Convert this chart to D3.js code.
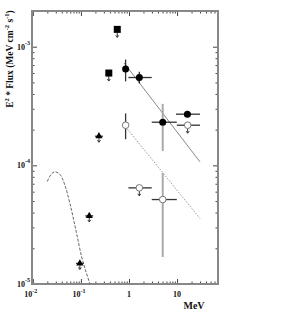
<!DOCTYPE html>
<html><head><meta charset="utf-8">
<script src="https://cdn.jsdelivr.net/npm/d3@7/dist/d3.min.js"></script>
<style>body{margin:0;background:#fff}text{font-family:"Liberation Serif","Times New Roman",serif;font-weight:bold;fill:#111}</style>
</head><body><svg id="c" width="285" height="316"></svg>
<script>
// ---- data ----
const xDomain = [0.0096, 71];
const yDomain = [1e-5, 2.0e-3];
const xTickValues = [0.01, 0.1, 1, 10];
const xTickLabels = [["10","-2"],["10","-1"],["1",""],["10",""]];
const yTickValues = [1e-5, 1e-4, 1e-3];
const yTickLabels = [["10","-5"],["10","-4"],["10","-3"]];

// filled squares (upper limits)
const sqX = [0.57, 0.38];
const sqY = [1.40e-3, 6.0e-4];
// filled triangles (upper limits)
const triX = [0.237, 0.149, 0.095];
const triY = [1.76e-4, 3.75e-5, 1.49e-5];
const triXlo = [0.196, 0.123, 0.079];
const triXhi = [0.287, 0.180, 0.115];
// filled circles
const fcX   = [0.85, 1.64, 5.03, 16.4];
const fcY   = [6.5e-4, 5.5e-4, 2.31e-4, 2.7e-4];
const fcXlo = [null, 0.97, 2.97, 9.5];
const fcXhi = [null, 2.97, 9.86, 30];
const fcYlo = [5.1e-4, 4.9e-4, 1.32e-4, null];
const fcYhi = [7.8e-4, 6.15e-4, 3.3e-4, null];
// open circles
const ocX   = [0.85, 16.6, 1.64, 5.03];
const ocY   = [2.18e-4, 2.18e-4, 6.46e-5, 5.15e-5];
const ocXlo = [null, 9.9, 0.97, 2.97];
const ocXhi = [null, 30, 2.97, 9.86];
const ocYlo = [1.66e-4, null, null, 1.69e-5];
const ocYhi = [2.74e-4, null, null, 8.65e-5];
const ocLimit = [false, true, true, false];
// power-law lines
const solidX = [0.79, 30];
const solidY = [7.3e-4, 1.07e-4];
const dotX = [0.85, 30];
const dotY = [2.11e-4, 3.56e-5];
// thermal curve (dashed)
const curveX = [0.0199, 0.0226, 0.0287, 0.0365, 0.0464, 0.059, 0.0814, 0.1035, 0.1315, 0.154];
const curveY = [7.3e-5, 8.1e-5, 8.8e-5, 8.4e-5, 6.8e-5, 4.77e-5, 2.66e-5, 1.69e-5, 1.22e-5, 1.0e-5];

// ---- layout ----
const L = 32, R = 218, T = 11, B = 284;
const svg = d3.select("#c");
const x = d3.scaleLog().domain(xDomain).range([L, R]);
const y = d3.scaleLog().domain(yDomain).range([B, T]);

const g = svg.append("g");
const minorX = [], minorY = [];
[0.01,0.1,1,10].forEach(d=>{for(let k=2;k<=9;k++){const v=d*k; if(v>=xDomain[0]&&v<=xDomain[1]) minorX.push(v);}});
[1e-5,1e-4,1e-3].forEach(d=>{for(let k=2;k<=9;k++){const v=d*k; if(v>=yDomain[0]&&v<=yDomain[1]) minorY.push(v);}});

// axes with inward ticks
function axisTicks(axisGen, transform, vals, size){
  g.append("g").attr("transform", transform)
   .call(axisGen.tickValues(vals).tickSize(size).tickFormat(""))
   .call(s=>{s.select(".domain").remove(); s.selectAll("line").attr("stroke","#444").attr("stroke-width",1);});
}
axisTicks(d3.axisTop(x), `translate(0,${B})`, xTickValues, 5);
axisTicks(d3.axisTop(x), `translate(0,${B})`, minorX, 2.5);
axisTicks(d3.axisBottom(x), `translate(0,${T})`, xTickValues, 5);
axisTicks(d3.axisBottom(x), `translate(0,${T})`, minorX, 2.5);
axisTicks(d3.axisRight(y), `translate(${L},0)`, yTickValues, 5);
axisTicks(d3.axisRight(y), `translate(${L},0)`, minorY, 2.5);
axisTicks(d3.axisLeft(y), `translate(${R},0)`, yTickValues, 5);
axisTicks(d3.axisLeft(y), `translate(${R},0)`, minorY, 2.5);

g.append("rect").attr("x",L).attr("y",T).attr("width",R-L).attr("height",B-T)
 .attr("fill","none").attr("stroke","#888").attr("stroke-width",2);

// tick labels
xTickValues.forEach((v,i)=>{
  const t = g.append("text").attr("x", x(v) - (xTickLabels[i][1]?2:0)).attr("y", 297)
    .attr("text-anchor","middle").attr("font-size",8);
  t.append("tspan").text(xTickLabels[i][0]);
  if (xTickLabels[i][1]) t.append("tspan").attr("dy",-4).attr("font-size",6).text(xTickLabels[i][1]);
});
yTickValues.forEach((v,i)=>{
  const t = g.append("text").attr("x", 17).attr("y", y(v)+3).attr("font-size",8);
  t.append("tspan").text(yTickLabels[i][0]);
  t.append("tspan").attr("dy",-5).attr("font-size",6).text(yTickLabels[i][1]);
});
g.append("text").attr("x",194).attr("y",309).attr("text-anchor","middle").attr("font-size",10).text("MeV");
const yt = g.append("text").attr("transform","translate(13,59) rotate(-90)").attr("text-anchor","middle").attr("font-size",9.5);
yt.append("tspan").text("E");
yt.append("tspan").attr("dy",-4).attr("font-size",6.5).text("2");
yt.append("tspan").attr("dy",4).text(" * Flux (MeV cm");
yt.append("tspan").attr("dy",-4).attr("font-size",6.5).text("-2");
yt.append("tspan").attr("dy",4).text(" s");
yt.append("tspan").attr("dy",-4).attr("font-size",6.5).text("-1");
yt.append("tspan").attr("dy",4).text(")");

// lines
const line = d3.line().x(d=>x(d[0])).y(d=>y(d[1]));
g.append("path").attr("d", line(solidX.map((v,i)=>[v,solidY[i]]))).attr("fill","none").attr("stroke","#888").attr("stroke-width",1);
g.append("path").attr("d", line(dotX.map((v,i)=>[v,dotY[i]]))).attr("fill","none").attr("stroke","#999").attr("stroke-width",1).attr("stroke-dasharray","1.5,1.5");
g.append("path").attr("d", d3.line().curve(d3.curveMonotoneX).x(d=>x(d[0])).y(d=>y(d[1]))(curveX.map((v,i)=>[v,curveY[i]])))
 .attr("fill","none").attr("stroke","#666").attr("stroke-width",1).attr("stroke-dasharray","3,1.5");

// helpers
function hbar(xl, xh, yv, col){ g.append("line").attr("x1",x(xl)).attr("x2",x(xh)).attr("y1",y(yv)).attr("y2",y(yv)).attr("stroke",col).attr("stroke-width",1.3); }
function vbar(xv, yl, yh, col, w){ g.append("line").attr("x1",x(xv)).attr("x2",x(xv)).attr("y1",y(yl)).attr("y2",y(yh)).attr("stroke",col).attr("stroke-width",w||1.5); }
function arrow(xv, yv, off, len){
  const cx = x(xv), cy = y(yv)+off;
  g.append("line").attr("x1",cx).attr("x2",cx).attr("y1",cy).attr("y2",cy+len).attr("stroke","#333").attr("stroke-width",1);
  g.append("path").attr("d",`M${cx-1.5},${cy+len-2}L${cx},${cy+len}L${cx+1.5},${cy+len-2}`).attr("fill","none").attr("stroke","#333").attr("stroke-width",1);
}

// filled squares
sqX.forEach((v,i)=>{
  arrow(v, sqY[i], 3, 5);
  g.append("rect").attr("x",x(v)-3.5).attr("y",y(sqY[i])-3.5).attr("width",7).attr("height",7).attr("fill","#000");
});
// triangles
triX.forEach((v,i)=>{
  hbar(triXlo[i], triXhi[i], triY[i], "#333");
  arrow(v, triY[i], 2, 4);
  g.append("path").attr("transform",`translate(${x(v)},${y(triY[i])})`)
   .attr("d", d3.symbol().type(d3.symbolTriangle).size(22)()).attr("fill","#000");
});
// filled circles
fcX.forEach((v,i)=>{
  const light = v>3 && v<10;
  if (fcXlo[i]!=null) hbar(fcXlo[i], fcXhi[i], fcY[i], "#333");
  if (fcYlo[i]!=null) vbar(v, fcYlo[i], fcYhi[i], light?"#aaa":"#333", light?2:1.3);
  g.append("circle").attr("cx",x(v)).attr("cy",y(fcY[i])).attr("r",3.5).attr("fill","#000");
});
// open circles
ocX.forEach((v,i)=>{
  const light = v>3 && v<10;
  if (ocXlo[i]!=null) hbar(ocXlo[i], ocXhi[i], ocY[i], "#333");
  if (ocYlo[i]!=null) vbar(v, ocYlo[i], ocYhi[i], light?"#aaa":"#333", light?2:1.3);
  if (ocLimit[i]) arrow(v, ocY[i], 3, 5);
  g.append("circle").attr("cx",x(v)).attr("cy",y(ocY[i])).attr("r",3.3).attr("fill","#fff").attr("stroke","#777").attr("stroke-width",1);
});
</script></body></html>
